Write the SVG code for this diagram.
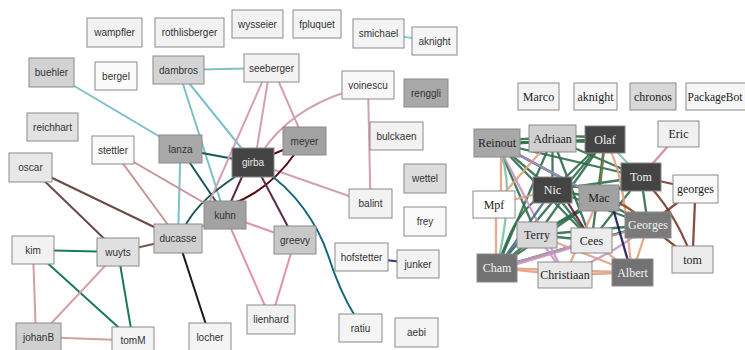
<svg xmlns="http://www.w3.org/2000/svg" width="745" height="350" viewBox="0 0 745 350">
<style>
.n rect{stroke:#8a8a8a;stroke-width:1}
.l{font-family:"Liberation Sans",Arial,sans-serif;font-size:10px;fill:#333;text-anchor:middle}
.r{font-family:"Liberation Serif","Times New Roman",serif;font-size:12px;fill:#222;text-anchor:middle}
#edges path,#edges line{fill:none;stroke-width:2}
#redges line,#redges path{fill:none;stroke-width:2.3;stroke-opacity:0.9}
.g{stroke:#2f6d4a}
.sa{stroke:#e2a284}
.pp{stroke:#c896c0}
.br{stroke:#7a3a30}
</style>
<rect width="745" height="350" fill="#ffffff"/>
<g id="edges">
<line x1="51.5" y1="72.5" x2="180.5" y2="149" stroke="#7cc0c8"/>
<line x1="178.5" y1="70" x2="271.5" y2="68" stroke="#7cc0c8"/>
<line x1="178.5" y1="70" x2="225" y2="215" stroke="#7cc0c8"/>
<line x1="178.5" y1="70" x2="253" y2="162.5" stroke="#7cc0c8"/>
<line x1="180.5" y1="149" x2="178" y2="238.5" stroke="#7cc0c8"/>
<line x1="180.5" y1="149" x2="253" y2="162.5" stroke="#17585a"/>
<line x1="180.5" y1="149" x2="225" y2="215" stroke="#17585a"/>
<path d="M183,230 C195,205 215,190 245,170" stroke="#17585a"/>
<line x1="30.5" y1="167.5" x2="178" y2="238.5" stroke="#6a4a44"/>
<line x1="30.5" y1="167.5" x2="118" y2="252" stroke="#6a4a44"/>
<line x1="118" y1="252" x2="178" y2="238.5" stroke="#7a5850"/>
<line x1="113" y1="150" x2="225" y2="215" stroke="#c89494"/>
<line x1="113" y1="150" x2="178" y2="238.5" stroke="#c89494"/>
<line x1="33" y1="250" x2="118" y2="252" stroke="#1a7a55"/>
<line x1="33" y1="250" x2="133" y2="340.5" stroke="#1a7a55"/>
<line x1="118" y1="252" x2="133" y2="340.5" stroke="#1a7a55"/>
<line x1="33" y1="250" x2="36" y2="337" stroke="#d4a0a0"/>
<line x1="118" y1="252" x2="38.5" y2="337" stroke="#d4a0a0"/>
<line x1="38.5" y1="337" x2="133" y2="340.5" stroke="#d4a0a0"/>
<line x1="178" y1="238.5" x2="210" y2="337" stroke="#1a1a1a"/>
<line x1="263" y1="80" x2="208" y2="205" stroke="#d4a0b2"/>
<line x1="268" y1="80" x2="255" y2="160" stroke="#d4a0b2"/>
<line x1="278" y1="80" x2="304.5" y2="141" stroke="#d4a0b2"/>
<path d="M346,92 Q290,110 262,152" stroke="#d4a0b2"/>
<line x1="368" y1="85" x2="370.5" y2="203.5" stroke="#d4a0b2"/>
<line x1="253" y1="162.5" x2="370.5" y2="203.5" stroke="#d4a0b2"/>
<line x1="225" y1="215" x2="271" y2="319.5" stroke="#e092aa"/>
<line x1="295" y1="240" x2="271" y2="319.5" stroke="#e092aa"/>
<line x1="225" y1="215" x2="295" y2="240" stroke="#e092aa"/>
<line x1="178" y1="238.5" x2="225" y2="215" stroke="#d898a8"/>
<line x1="253" y1="162.5" x2="304.5" y2="141" stroke="#5a0a12"/>
<path d="M232,204 Q270,190 296,152" stroke="#5a0a12"/>
<line x1="245" y1="170" x2="225" y2="215" stroke="#5a2a4a"/>
<line x1="258" y1="170" x2="295" y2="240" stroke="#5a2a4a"/>
<path d="M263,170 C295,190 318,225 328,255 C336,280 345,300 355,316" stroke="#106878"/>
<line x1="361.5" y1="257" x2="418" y2="264" stroke="#2a3a7a"/>
<line x1="378.5" y1="33.5" x2="434.5" y2="41" stroke="#80d0d8"/>
</g>
<g id="redges">
<line class="g" x1="497" y1="141" x2="552.5" y2="137"/>
<line class="g" x1="497" y1="145" x2="552.5" y2="141"/>
<line class="g" x1="497" y1="143" x2="605" y2="139.5"/>
<line class="g" x1="497" y1="143" x2="552.5" y2="190"/>
<line class="g" x1="497" y1="143" x2="599" y2="198"/>
<line class="g" x1="497" y1="143" x2="641" y2="177"/>
<line class="g" x1="497" y1="143" x2="591.5" y2="240.5"/>
<line class="g" x1="497" y1="143" x2="648" y2="225"/>
<line class="g" x1="497" y1="143" x2="537" y2="235"/>
<line class="g" x1="552.5" y1="136" x2="605" y2="137"/>
<line class="g" x1="552.5" y1="141" x2="605" y2="142"/>
<line class="g" x1="552.5" y1="138.5" x2="552.5" y2="190"/>
<line class="g" x1="552.5" y1="138.5" x2="641" y2="177"/>
<line class="g" x1="552.5" y1="138.5" x2="591.5" y2="240.5"/>
<line class="g" x1="552.5" y1="138.5" x2="497" y2="268"/>
<line class="g" x1="605" y1="139.5" x2="552.5" y2="190"/>
<line class="g" x1="605" y1="139.5" x2="537" y2="235"/>
<line class="g" x1="605" y1="139.5" x2="497" y2="268"/>
<line class="g" x1="605" y1="139.5" x2="591.5" y2="240.5"/>
<line class="g" x1="552.5" y1="190" x2="599" y2="198"/>
<line class="g" x1="552.5" y1="190" x2="648" y2="225"/>
<line class="g" x1="552.5" y1="190" x2="591.5" y2="240.5"/>
<line class="g" x1="552.5" y1="190" x2="641" y2="177"/>
<line class="g" x1="599" y1="198" x2="641" y2="177"/>
<line class="g" x1="599" y1="198" x2="537" y2="235"/>
<line class="g" x1="599" y1="198" x2="497" y2="268"/>
<line class="g" x1="641" y1="177" x2="537" y2="235"/>
<line class="g" x1="641" y1="177" x2="591.5" y2="240.5"/>
<line class="g" x1="641" y1="177" x2="648" y2="225"/>
<line class="g" x1="537" y1="235" x2="591.5" y2="240.5"/>
<line class="g" x1="537" y1="235" x2="648" y2="225"/>
<line class="g" x1="591.5" y1="240.5" x2="648" y2="225"/>
<line class="g" x1="497" y1="268" x2="648" y2="225"/>
<line class="g" x1="497" y1="268" x2="591.5" y2="240.5"/>
<line class="g" x1="497" y1="268" x2="537" y2="235"/>
<path class="g" d="M497,268 C510,230 520,205 552.5,190"/>
<line x1="605" y1="139.5" x2="641" y2="177" stroke="#7cc4a4"/>
<path d="M497,143 C515,180 505,230 497,268" stroke="#7cc4a4"/>
<line class="sa" x1="501" y1="143" x2="501" y2="204"/>
<line class="sa" x1="496" y1="204" x2="496" y2="268"/>
<line class="sa" x1="552.5" y1="138.5" x2="494" y2="204.5"/>
<line class="sa" x1="494" y1="204.5" x2="552.5" y2="190"/>
<path class="sa" d="M605,139.5 C628,180 625,230 632.5,272.5"/>
<line class="sa" x1="497" y1="268" x2="565" y2="275"/>
<line class="sa" x1="565" y1="275" x2="632.5" y2="272.5"/>
<line class="sa" x1="591.5" y1="240.5" x2="632.5" y2="272.5"/>
<line class="sa" x1="648" y1="225" x2="632.5" y2="272.5"/>
<line class="sa" x1="497" y1="268" x2="632.5" y2="272.5"/>
<line class="sa" x1="599" y1="198" x2="565" y2="275"/>
<line class="sa" x1="537" y1="235" x2="632.5" y2="272.5"/>
<line class="pp" x1="497" y1="143" x2="565" y2="275"/>
<line class="pp" x1="497" y1="268" x2="591.5" y2="240.5"/>
<line class="pp" x1="537" y1="235" x2="565" y2="275"/>
<path class="pp" d="M648,225 C620,250 590,262 565,275"/>
<line class="pp" x1="648" y1="225" x2="497" y2="270"/>
<line x1="497" y1="143" x2="599" y2="198" stroke="#a090c8"/>
<line class="br" x1="641" y1="177" x2="695.5" y2="189"/>
<path class="br" d="M641,177 Q675,210 692.5,259.5"/>
<line class="br" x1="695.5" y1="189" x2="692.5" y2="259.5"/>
<line class="br" x1="695.5" y1="189" x2="648" y2="225"/>
<line class="br" x1="648" y1="225" x2="692.5" y2="259.5"/>
<path d="M599,198 Q625,200 648,225" stroke="#8a4a20"/>
<line x1="678.5" y1="134" x2="641" y2="177" stroke="#d0889a"/>
<line x1="612" y1="205" x2="630" y2="268" stroke="#1a1a50"/>
<line x1="552.5" y1="190" x2="497" y2="268" stroke="#4a6a8a"/>
<line x1="605" y1="139.5" x2="599" y2="198" stroke="#6a7a3a"/>
<line x1="560" y1="190" x2="591.5" y2="240.5" stroke="#6a1030"/>
</g>
<g id="n-wampfler" class="n"><rect x="87" y="18" width="55" height="29" fill="#f2f2f2"/><text class="l" x="114.5" y="36">wampfler</text></g>
<g id="n-rothlisberger" class="n"><rect x="155" y="18" width="69" height="29" fill="#f2f2f2"/><text class="l" x="189.5" y="36">rothlisberger</text></g>
<g id="n-wysseier" class="n"><rect x="232" y="10" width="51" height="28" fill="#f2f2f2"/><text class="l" x="257.5" y="27.5">wysseier</text></g>
<g id="n-fpluquet" class="n"><rect x="293" y="10" width="48" height="28" fill="#f4f4f4"/><text class="l" x="317" y="27.5">fpluquet</text></g>
<g id="n-smichael" class="n"><rect x="353" y="19" width="51" height="29" fill="#f4f4f4"/><text class="l" x="378.5" y="37">smichael</text></g>
<g id="n-aknight-l" class="n"><rect x="412" y="27" width="45" height="28" fill="#f6f6f6"/><text class="l" x="434.5" y="44.5">aknight</text></g>
<g id="n-buehler" class="n"><rect x="29" y="58" width="45" height="29" fill="#d2d2d2"/><text class="l" x="51.5" y="76">buehler</text></g>
<g id="n-bergel" class="n"><rect x="95" y="62" width="42" height="28" fill="#fafafa"/><text class="l" x="116" y="79.5">bergel</text></g>
<g id="n-dambros" class="n"><rect x="153" y="56" width="51" height="28" fill="#d4d4d4"/><text class="l" x="178.5" y="73.5">dambros</text></g>
<g id="n-seeberger" class="n"><rect x="244" y="54" width="55" height="28" fill="#f2f2f2"/><text class="l" x="271.5" y="71.5">seeberger</text></g>
<g id="n-voinescu" class="n"><rect x="342" y="71" width="52" height="28" fill="#f8f8f8"/><text class="l" x="368" y="88.5">voinescu</text></g>
<g id="n-renggli" class="n"><rect x="404" y="79" width="44" height="28" fill="#a8a8a8"/><text class="l" x="426" y="96.5">renggli</text></g>
<g id="n-reichhart" class="n"><rect x="27" y="113" width="51" height="28" fill="#e2e2e2"/><text class="l" x="52.5" y="130.5">reichhart</text></g>
<g id="n-stettler" class="n"><rect x="92" y="136" width="42" height="28" fill="#fafafa"/><text class="l" x="113" y="153.5">stettler</text></g>
<g id="n-lanza" class="n"><rect x="159" y="135" width="43" height="28" fill="#a8a8a8"/><text class="l" x="180.5" y="152.5">lanza</text></g>
<g id="n-oscar" class="n"><rect x="9" y="153" width="43" height="29" fill="#e8e8e8"/><text class="l" x="30.5" y="171">oscar</text></g>
<g id="n-meyer" class="n"><rect x="283" y="127" width="43" height="28" fill="#a2a2a2"/><text class="l" x="304.5" y="144.5">meyer</text></g>
<g id="n-girba" class="n"><rect x="232" y="148" width="42" height="29" fill="#444444"/><text class="l" x="253" y="166" style="fill:#e6e6e6">girba</text></g>
<g id="n-bulckaen" class="n"><rect x="370" y="122" width="53" height="28" fill="#f2f2f2"/><text class="l" x="396.5" y="139.5">bulckaen</text></g>
<g id="n-wettel" class="n"><rect x="404" y="164" width="42" height="29" fill="#dcdcdc"/><text class="l" x="425" y="182">wettel</text></g>
<g id="n-balint" class="n"><rect x="349" y="189" width="43" height="29" fill="#f2f2f2"/><text class="l" x="370.5" y="207">balint</text></g>
<g id="n-frey" class="n"><rect x="404" y="207" width="42" height="29" fill="#fafafa"/><text class="l" x="425" y="225">frey</text></g>
<g id="n-kuhn" class="n"><rect x="204" y="201" width="42" height="28" fill="#a2a2a2"/><text class="l" x="225" y="218.5">kuhn</text></g>
<g id="n-ducasse" class="n"><rect x="154" y="224" width="48" height="29" fill="#d0d0d0"/><text class="l" x="178" y="242">ducasse</text></g>
<g id="n-greevy" class="n"><rect x="274" y="226" width="42" height="28" fill="#c8c8c8"/><text class="l" x="295" y="243.5">greevy</text></g>
<g id="n-kim" class="n"><rect x="12" y="236" width="42" height="28" fill="#f2f2f2"/><text class="l" x="33" y="253.5">kim</text></g>
<g id="n-wuyts" class="n"><rect x="97" y="238" width="42" height="28" fill="#e0e0e0"/><text class="l" x="118" y="255.5">wuyts</text></g>
<g id="n-hofstetter" class="n"><rect x="335" y="243" width="53" height="28" fill="#f6f6f6"/><text class="l" x="361.5" y="260.5">hofstetter</text></g>
<g id="n-junker" class="n"><rect x="397" y="250" width="42" height="28" fill="#f2f2f2"/><text class="l" x="418" y="267.5">junker</text></g>
<g id="n-johanB" class="n"><rect x="16" y="323" width="45" height="28" fill="#d0d0d0"/><text class="l" x="38.5" y="340.5">johanB</text></g>
<g id="n-tomM" class="n"><rect x="112" y="327" width="42" height="27" fill="#f4f4f4"/><text class="l" x="133" y="344">tomM</text></g>
<g id="n-locher" class="n"><rect x="189" y="323" width="42" height="28" fill="#f4f4f4"/><text class="l" x="210" y="340.5">locher</text></g>
<g id="n-lienhard" class="n"><rect x="247" y="305" width="48" height="29" fill="#f2f2f2"/><text class="l" x="271" y="323">lienhard</text></g>
<g id="n-ratiu" class="n"><rect x="339" y="314" width="43" height="28" fill="#f4f4f4"/><text class="l" x="360.5" y="331.5">ratiu</text></g>
<g id="n-aebi" class="n"><rect x="395" y="318" width="43" height="29" fill="#f4f4f4"/><text class="l" x="416.5" y="336">aebi</text></g>
<g id="n-Marco" class="n"><rect x="518" y="83" width="41" height="27" fill="#f4f4f4"/><text class="r" x="538.5" y="100.5">Marco</text></g>
<g id="n-aknight-r" class="n"><rect x="574" y="83" width="43" height="27" fill="#f6f6f6"/><text class="r" x="595.5" y="100.5">aknight</text></g>
<g id="n-chronos" class="n"><rect x="630" y="83" width="46" height="27" fill="#d8d8d8"/><text class="r" x="653" y="100.5">chronos</text></g>
<g id="n-PackageBot" class="n"><rect x="686" y="83" width="64" height="27" fill="#f6f6f6"/><text class="r" x="715" y="100.5" style="font-size:11.5px">PackageBot</text></g>
<g id="n-Reinout" class="n"><rect x="474" y="129" width="46" height="28" fill="#a8a8a8"/><text class="r" x="497" y="147">Reinout</text></g>
<g id="n-Adriaan" class="n"><rect x="529" y="125" width="47" height="27" fill="#d0d0d0"/><text class="r" x="552.5" y="142.5">Adriaan</text></g>
<g id="n-Olaf" class="n"><rect x="585" y="126" width="40" height="27" fill="#444444"/><text class="r" x="605" y="143.5" style="fill:#f2f2f2">Olaf</text></g>
<g id="n-Eric" class="n"><rect x="658" y="121" width="41" height="26" fill="#f0f0f0"/><text class="r" x="678.5" y="138">Eric</text></g>
<g id="n-Tom" class="n"><rect x="621" y="163" width="40" height="28" fill="#444444"/><text class="r" x="641" y="181" style="fill:#f2f2f2">Tom</text></g>
<g id="n-georges" class="n"><rect x="673" y="175" width="45" height="28" fill="#fafafa"/><text class="r" x="695.5" y="193">georges</text></g>
<g id="n-Nic" class="n"><rect x="533" y="177" width="39" height="26" fill="#444444"/><text class="r" x="552.5" y="194" style="fill:#f2f2f2">Nic</text></g>
<g id="n-Mac" class="n"><rect x="579" y="185" width="40" height="26" fill="#a2a2a2"/><text class="r" x="599" y="202">Mac</text></g>
<g id="n-Mpf" class="n"><rect x="473" y="191" width="42" height="27" fill="#ffffff"/><text class="r" x="494" y="208.5">Mpf</text></g>
<g id="n-Georges" class="n"><rect x="625" y="212" width="46" height="26" fill="#7a7a7a"/><text class="r" x="648" y="229" style="fill:#f2f2f2">Georges</text></g>
<g id="n-Terry" class="n"><rect x="517" y="222" width="40" height="26" fill="#d8d8d8"/><text class="r" x="537" y="239">Terry</text></g>
<g id="n-Cees" class="n"><rect x="571" y="228" width="41" height="25" fill="#ececec"/><text class="r" x="591.5" y="244.5">Cees</text></g>
<g id="n-tom" class="n"><rect x="672" y="246" width="41" height="27" fill="#ececec"/><text class="r" x="692.5" y="263.5">tom</text></g>
<g id="n-Cham" class="n"><rect x="477" y="254" width="40" height="28" fill="#727272"/><text class="r" x="497" y="272" style="fill:#f2f2f2">Cham</text></g>
<g id="n-Christiaan" class="n"><rect x="538" y="262" width="54" height="26" fill="#e8e8e8"/><text class="r" x="565" y="279">Christiaan</text></g>
<g id="n-Albert" class="n"><rect x="612" y="259" width="41" height="27" fill="#727272"/><text class="r" x="632.5" y="276.5" style="fill:#f2f2f2">Albert</text></g>
</svg>
